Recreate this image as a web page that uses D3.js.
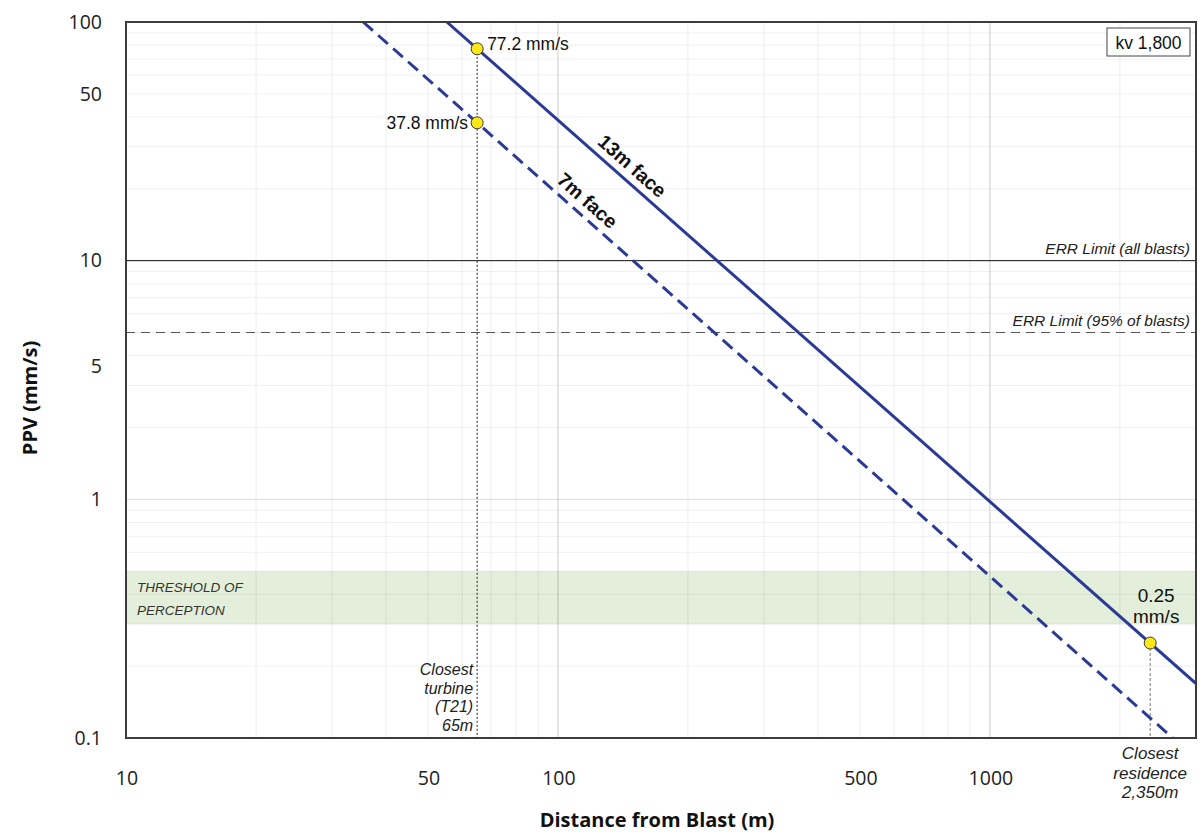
<!DOCTYPE html>
<html lang="en">
<head>
<meta charset="utf-8">
<title>PPV vs distance from blast</title>
<style>
  body { margin: 0; background: #fff; }
  svg { display: block; }
</style>
</head>
<body>
<svg id="chart"></svg>
<script src="https://d3js.org/d3.v7.min.js"></script>
<script>
// values
const xTickValues = [10, 50, 100, 500, 1000];
const yTickLabels = ['100', '50', '10', '5', '1', '0.1'];
const yTickAt = [100, 50, 10, 3.6, 1, 0.1]; // the "5" label sits lower than 5 in the original

const face13 = [{dist: 55.3, ppv: 100}, {dist: 3000, ppv: 0.169}];
const face7 = [{dist: 35.4, ppv: 100}, {dist: 2650, ppv: 0.1}];

const markerDist = [65, 65, 2350];
const markerPpv = [77.2, 37.8, 0.25];

const errValues = [10, 5];
const errLabels = ['ERR Limit (all blasts)', 'ERR Limit (95% of blasts)'];

const thresholdBand = [0.3, 0.5];
const kvText = 'kv 1,800';

const W = 1203, H = 838;
const pLeft = 126, pRight = 1196, pTop = 22, pBottom = 738;

const svg = d3.select('#chart').attr('width', W).attr('height', H);

const x = d3.scaleLog().domain([10, 3000]).range([pLeft, pRight]);
const y = d3.scaleLog().domain([0.1, 100]).range([pBottom, pTop]);

const blue = '#2b3a95';
const sans = 'Liberation Sans, Arial, sans-serif';
const axisFont = 'Open Sans, Noto Sans, sans-serif';

svg.append('defs').append('clipPath').attr('id', 'plot')
  .append('rect').attr('x', pLeft).attr('y', pTop)
  .attr('width', pRight - pLeft).attr('height', pBottom - pTop);

// threshold of perception band
svg.append('rect')
  .attr('x', pLeft).attr('width', pRight - pLeft)
  .attr('y', y(thresholdBand[1]))
  .attr('height', y(thresholdBand[0]) - y(thresholdBand[1]))
  .attr('fill', '#e3efda');

// gridlines
const xGrid = x.ticks().filter(v => v > 10 && v < 3000);
svg.append('g').selectAll('line').data(xGrid).join('line')
  .attr('x1', d => x(d)).attr('x2', d => x(d))
  .attr('y1', pTop).attr('y2', pBottom)
  .attr('stroke', d => (d === 100 || d === 1000) ? 'rgba(0,0,0,0.2)' : 'rgba(0,0,0,0.07)')
  .attr('stroke-width', 1);

const yGrid = y.ticks().filter(v => v > 0.1 && v < 100);
svg.append('g').selectAll('line').data(yGrid).join('line')
  .attr('x1', pLeft).attr('x2', pRight)
  .attr('y1', d => y(d)).attr('y2', d => y(d))
  .attr('stroke', d => d === 1 ? 'rgba(0,0,0,0.13)' : 'rgba(0,0,0,0.06)')
  .attr('stroke-width', 1);

svg.append('text')
  .attr('font-family', sans).attr('font-size', 13.5).attr('font-style', 'italic')
  .attr('fill', '#333')
  .selectAll('tspan').data(['THRESHOLD OF', 'PERCEPTION']).join('tspan')
  .attr('x', pLeft + 11)
  .attr('y', (d, i) => y(thresholdBand[1]) + 21 + i * 23)
  .text(d => d);

// ERR limit lines
errValues.forEach((v, i) => {
  svg.append('line')
    .attr('x1', pLeft).attr('x2', pRight)
    .attr('y1', y(v)).attr('y2', y(v))
    .attr('stroke', i ? '#555' : '#111')
    .attr('stroke-width', 1)
    .attr('stroke-dasharray', i ? '9,6' : null);
  svg.append('text')
    .attr('x', pRight - 6).attr('y', y(v) - 7)
    .attr('text-anchor', 'end')
    .attr('font-family', sans).attr('font-size', 15.5).attr('font-style', 'italic')
    .attr('fill', '#222')
    .text(errLabels[i]);
});

// drop lines from the marked points
svg.append('line')
  .attr('x1', x(markerDist[0])).attr('x2', x(markerDist[0]))
  .attr('y1', y(markerPpv[0])).attr('y2', pBottom)
  .attr('stroke', '#222').attr('stroke-width', 1).attr('stroke-dasharray', '2,2');
svg.append('line')
  .attr('x1', x(markerDist[2])).attr('x2', x(markerDist[2]))
  .attr('y1', y(markerPpv[2])).attr('y2', pBottom)
  .attr('stroke', '#777').attr('stroke-width', 1).attr('stroke-dasharray', '3,2');

// attenuation lines
const line = d3.line().x(d => x(d.dist)).y(d => y(d.ppv));
const plotG = svg.append('g').attr('clip-path', 'url(#plot)');
plotG.append('path').datum(face13).attr('d', line)
  .attr('fill', 'none').attr('stroke', blue).attr('stroke-width', 3);
plotG.append('path').datum(face7).attr('d', line)
  .attr('fill', 'none').attr('stroke', blue).attr('stroke-width', 3)
  .attr('stroke-dasharray', '13,7');

// line labels, rotated along each line
function lineLabel(data, atDist, txt) {
  const a = data[0], b = data[1];
  const ang = Math.atan2(y(b.ppv) - y(a.ppv), x(b.dist) - x(a.dist)) * 180 / Math.PI;
  const slope = Math.log(b.ppv / a.ppv) / Math.log(b.dist / a.dist);
  const ppv = a.ppv * Math.pow(atDist / a.dist, slope);
  svg.append('text')
    .attr('transform', `translate(${x(atDist)},${y(ppv)}) rotate(${ang})`)
    .attr('y', -8)
    .attr('text-anchor', 'middle')
    .attr('font-family', sans).attr('font-size', 19.5).attr('font-weight', 'bold')
    .attr('fill', '#111')
    .text(txt);
}
lineLabel(face13, 141, '13m face');
lineLabel(face7, 111, '7m face');

// marked points
svg.append('g').selectAll('circle').data(markerDist).join('circle')
  .attr('cx', d => x(d)).attr('cy', (d, i) => y(markerPpv[i]))
  .attr('r', 6)
  .attr('fill', '#ffe81a').attr('stroke', '#3a3a3a').attr('stroke-width', 1);

svg.append('text')
  .attr('x', x(markerDist[0]) + 10).attr('y', y(markerPpv[0]) + 1)
  .attr('font-family', sans).attr('font-size', 17.5).attr('fill', '#111')
  .text(markerPpv[0] + ' mm/s');
svg.append('text')
  .attr('x', x(markerDist[1]) - 9).attr('y', y(markerPpv[1]) + 6)
  .attr('text-anchor', 'end')
  .attr('font-family', sans).attr('font-size', 17.5).attr('fill', '#111')
  .text(markerPpv[1] + ' mm/s');
svg.append('text')
  .attr('text-anchor', 'middle')
  .attr('font-family', sans).attr('font-size', 19).attr('fill', '#111')
  .selectAll('tspan').data([String(markerPpv[2]), 'mm/s']).join('tspan')
  .attr('x', x(markerDist[2]) + 6)
  .attr('y', (d, i) => y(markerPpv[2]) - 41 + i * 21)
  .text(d => d);

// annotations
svg.append('text')
  .attr('text-anchor', 'end')
  .attr('font-family', sans).attr('font-size', 16).attr('font-style', 'italic').attr('fill', '#222')
  .selectAll('tspan').data(['Closest', 'turbine', '(T21)', '65m']).join('tspan')
  .attr('x', x(markerDist[0]) - 4)
  .attr('y', (d, i) => 675 + i * 18.5)
  .text(d => d);
svg.append('text')
  .attr('text-anchor', 'middle')
  .attr('font-family', sans).attr('font-size', 17).attr('font-style', 'italic').attr('fill', '#222')
  .selectAll('tspan').data(['Closest', 'residence', '2,350m']).join('tspan')
  .attr('x', x(markerDist[2]))
  .attr('y', (d, i) => 759 + i * 19.5)
  .text(d => d);

// kv box
const kvG = svg.append('g');
kvG.append('rect').attr('x', 1107).attr('y', 28).attr('width', 83).attr('height', 28)
  .attr('fill', '#fff').attr('stroke', '#444').attr('stroke-width', 1);
kvG.append('text').attr('x', 1148.5).attr('y', 48.5)
  .attr('text-anchor', 'middle')
  .attr('font-family', sans).attr('font-size', 17.5).attr('fill', '#111')
  .text(kvText);

// frame
svg.append('rect').attr('x', pLeft).attr('y', pTop)
  .attr('width', pRight - pLeft).attr('height', pBottom - pTop)
  .attr('fill', 'none').attr('stroke', '#3c3c3c').attr('stroke-width', 2);

// tick labels
svg.append('g').selectAll('text').data(yTickLabels).join('text')
  .attr('x', 102).attr('y', (d, i) => y(yTickAt[i]))
  .attr('dy', '0.35em').attr('text-anchor', 'end')
  .attr('font-family', axisFont).attr('font-size', 19.5).attr('fill', '#222')
  .text(d => d);

svg.append('g').selectAll('text').data(xTickValues).join('text')
  .attr('x', d => x(d) + 1).attr('y', 778)
  .attr('dy', '0.35em').attr('text-anchor', 'middle')
  .attr('font-family', axisFont).attr('font-size', 19.5).attr('fill', '#222')
  .text(d => d);

// axis titles
svg.append('text')
  .attr('x', 657).attr('y', 827)
  .attr('text-anchor', 'middle')
  .attr('font-family', axisFont).attr('font-size', 20).attr('font-weight', 'bold').attr('fill', '#111')
  .text('Distance from Blast (m)');
svg.append('text')
  .attr('transform', 'translate(37,398) rotate(-90)')
  .attr('text-anchor', 'middle')
  .attr('font-family', axisFont).attr('font-size', 20).attr('font-weight', 'bold').attr('fill', '#111')
  .text('PPV (mm/s)');
</script>
</body>
</html>
